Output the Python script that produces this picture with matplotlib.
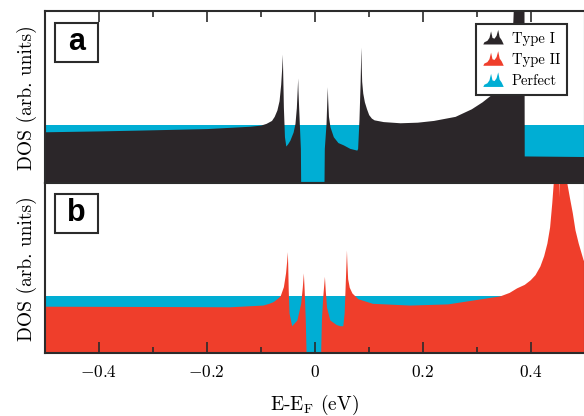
import matplotlib
matplotlib.use("Agg")
import matplotlib.pyplot as plt
from matplotlib.patches import Patch, Polygon, Rectangle
from matplotlib.legend_handler import HandlerBase

plt.rcParams['font.family'] = ['cmr10', 'DejaVu Serif']
plt.rcParams['mathtext.fontset'] = 'cm'
plt.rcParams['axes.formatter.use_mathtext'] = True

# ---------------- data ----------------
energy_perfect = [-0.5, 0.5]
dos_perfect = [1.0, 1.0]

energy_type1 = [-0.500, -0.400, -0.320, -0.200, -0.120, -0.100, -0.090, -0.080, -0.075, -0.070,
                -0.066, -0.063, -0.061, -0.0600, -0.0595, -0.0585, -0.058, -0.056, -0.0535, -0.050,
                -0.046, -0.040, -0.0365, -0.034, -0.0325, -0.0315, -0.031, -0.0295, -0.0285, -0.0265,
                -0.0260, 0.0172, 0.0178, 0.021, 0.0225, 0.0234, 0.024, 0.0255, 0.0283, 0.0345,
                0.043, 0.053, 0.065, 0.078, 0.0795, 0.082, 0.084, 0.0852, 0.0857, 0.0862,
                0.087, 0.089, 0.092, 0.096, 0.100, 0.105, 0.110, 0.127, 0.158, 0.190,
                0.220, 0.260, 0.290, 0.310, 0.325, 0.335, 0.345, 0.352, 0.358, 0.362,
                0.365, 0.367, 0.369, 0.3875, 0.388, 0.500]
dos_type1 = [0.885, 0.90, 0.915, 0.94, 0.98, 1.00, 1.03, 1.08, 1.15, 1.26,
             1.42, 1.70, 2.00, 2.22, 2.00, 1.55, 1.31, 0.80, 0.64, 0.68,
             0.74, 0.88, 1.03, 1.30, 1.60, 1.81, 1.60, 1.25, 1.03, 0.60,
             0.0, 0.0, 0.60, 1.03, 1.45, 1.66, 1.45, 1.15, 0.97, 0.80,
             0.70, 0.66, 0.60, 0.57, 0.60, 1.10, 1.70, 2.20, 2.34, 2.00,
             1.75, 1.55, 1.40, 1.28, 1.18, 1.12, 1.09, 1.06, 1.04, 1.05,
             1.08, 1.15, 1.28, 1.40, 1.51, 1.60, 1.72, 1.85, 2.00, 2.20,
             2.45, 2.80, 3.30, 3.50, 0.47, 0.46]

energy_type2 = [-0.500, -0.300, -0.157, -0.096, -0.085, -0.077, -0.070, -0.064, -0.058, -0.054,
                -0.052, -0.0507, -0.050, -0.049, -0.0475, -0.0426, -0.033, -0.026, -0.023, -0.021,
                -0.0195, -0.0175, -0.016, 0.011, 0.0125, 0.015, 0.018, 0.0195, 0.022, 0.028,
                0.040, 0.047, 0.052, 0.0545, 0.0565, 0.058, 0.0588, 0.0595, 0.061, 0.064,
                0.069, 0.080, 0.107, 0.176, 0.246, 0.315, 0.343, 0.360, 0.374, 0.388,
                0.399, 0.408, 0.417, 0.424, 0.430, 0.435, 0.439, 0.442, 0.451, 0.4525,
                0.454, 0.465, 0.467, 0.472, 0.477, 0.482, 0.488, 0.497, 0.500]
dos_type2 = [0.82, 0.815, 0.81, 0.84, 0.87, 0.90, 0.95, 1.00, 1.16, 1.40,
             1.60, 1.77, 1.55, 1.10, 0.70, 0.48, 0.58, 0.87, 1.15, 1.40,
             1.10, 0.60, 0.0, 0.0, 0.60, 1.00, 1.34, 1.10, 0.80, 0.58,
             0.50, 0.48, 0.48, 0.70, 1.20, 1.60, 1.80, 1.60, 1.30, 1.15,
             1.05, 0.95, 0.87, 0.84, 0.86, 0.96, 1.00, 1.06, 1.14, 1.20,
             1.28, 1.37, 1.52, 1.70, 1.92, 2.20, 2.62, 3.00, 3.60, 2.72,
             3.60, 3.40, 2.96, 2.70, 2.45, 2.15, 1.92, 1.63, 1.58]

xtick_major = [-0.4, -0.2, 0.0, 0.2, 0.4]
xtick_labels = [r'$-0.4$', r'$-0.2$', r'$0$', r'$0.2$', r'$0.4$']
xtick_minor = [-0.3, -0.1, 0.1, 0.3]
series_labels = ['Type I', 'Type II', 'Perfect']

# ---------------- style ----------------
c_black = '#2b2629'
c_red = '#ef3e2b'
c_blue = '#00aed4'
c_line = '#2b2b2b'

fig = plt.figure(figsize=(5.84, 4.16), dpi=100)
W, H = 584.0, 416.0
ax_a = fig.add_axes([44.7 / W, (H - 183.3) / H, 540 / W, 172.3 / H])
ax_b = fig.add_axes([44.7 / W, (H - 353.3) / H, 540 / W, 170.0 / H])

for ax, e, d, col in [(ax_a, energy_type1, dos_type1, c_black),
                      (ax_b, energy_type2, dos_type2, c_red)]:
    ax.fill_between(energy_perfect, 0, dos_perfect, color=c_blue, lw=0)
    ax.fill_between(e, 0, d, color=col, lw=0)
    ax.set_xlim(-0.5, 0.5)
    ax.set_ylim(0, 2.96)
    ax.set_yticks([])
    ax.set_xticks(xtick_major)
    ax.set_xticks(xtick_minor, minor=True)
    ax.set_xticklabels(xtick_labels)
    for s in ax.spines.values():
        s.set_linewidth(1.5)
        s.set_color(c_line)
    ax.tick_params(axis='x', which='both', direction='in', color=c_line, width=1.2)
    ax.tick_params(axis='x', which='major', length=8)
    ax.tick_params(axis='x', which='minor', length=4)
    ax.set_ylabel('DOS (arb. units)', fontsize=14)
    ax.yaxis.set_label_coords(-0.015, 0.5)

ax_a.tick_params(axis='x', which='both', top=True, bottom=False,
                 labelbottom=False, labeltop=False)
ax_b.tick_params(axis='x', which='both', top=False, bottom=True,
                 labelbottom=True, labelsize=12.5, pad=8)
ax_b.set_xlabel(r'E-E$_\mathrm{F}$ (eV)', fontsize=14, labelpad=9)

# panel letters
for ax, letter, y0, h in [(ax_a, 'a', 0.706, 0.226), (ax_b, 'b', 0.709, 0.228)]:
    ax.add_patch(Rectangle((0.019, y0), 0.079, h, transform=ax.transAxes,
                           facecolor='white', edgecolor=c_line, lw=1.5, zorder=5))
    ax.text(0.0585, y0 + h / 2, letter, transform=ax.transAxes, ha='center', va='center',
            fontsize=22, fontweight='bold', family='Liberation Sans', color='black', zorder=6)


# legend with DOS-shaped icons
class DOSHandler(HandlerBase):
    shape = [(0, 0), (0.05, 0.15), (0.2, 0.25), (0.3, 0.45), (0.38, 0.9), (0.45, 0.45),
             (0.55, 0.4), (0.65, 0.6), (0.73, 1.0), (0.8, 0.5), (0.9, 0.3), (1.0, 0.0)]

    def create_artists(self, legend, orig_handle, xdescent, ydescent, width, height,
                       fontsize, trans):
        pts = [(-xdescent + fx * width, -ydescent - 0.1 * height + fy * height * 1.25)
               for fx, fy in self.shape]
        poly = Polygon(pts, closed=True, facecolor=orig_handle.get_facecolor(),
                       edgecolor='none', transform=trans)
        return [poly]


handles = [Patch(facecolor=c) for c in (c_black, c_red, c_blue)]
leg = ax_a.legend(handles, series_labels, handler_map={Patch: DOSHandler()},
                  loc='upper right', bbox_to_anchor=(0.968, 0.923), borderaxespad=0,
                  fontsize=10.5, frameon=True, fancybox=False, framealpha=1,
                  edgecolor=c_line, handlelength=1.4, handleheight=0.85,
                  handletextpad=0.55, labelspacing=0.5, borderpad=0.5)
leg.get_frame().set_linewidth(1.5)
leg.set_zorder(10)

fig.savefig('out.png', dpi=100)
